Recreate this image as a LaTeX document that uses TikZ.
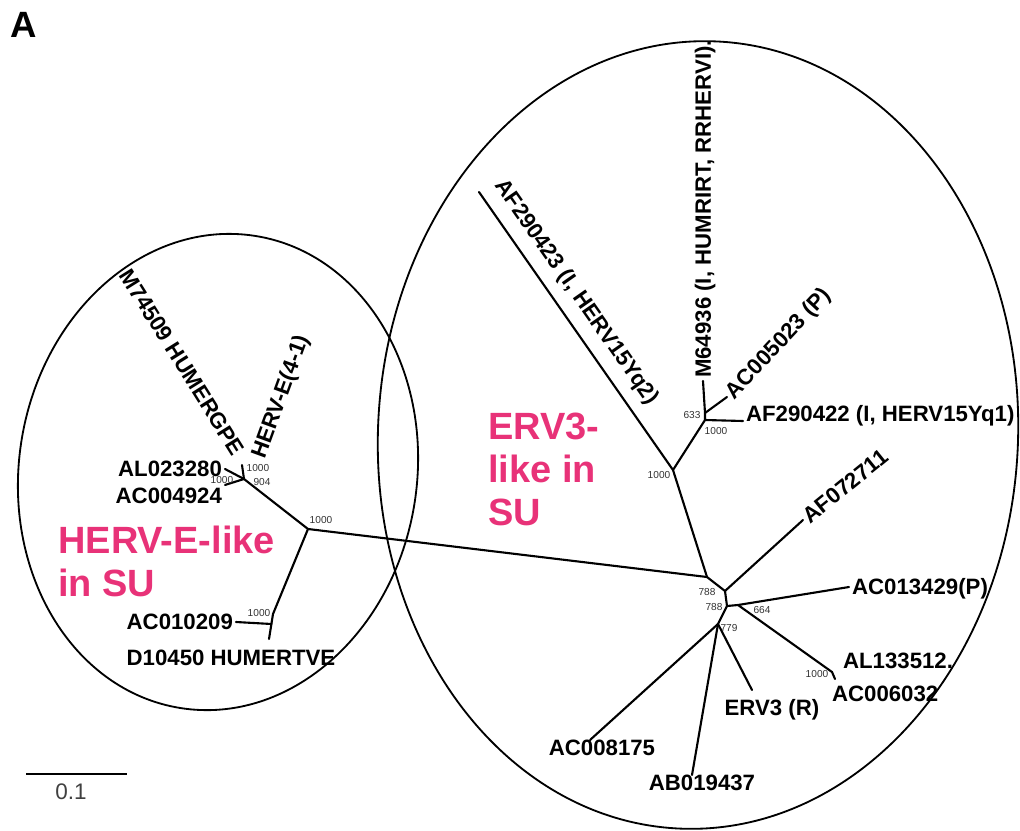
\documentclass[tikz,border=0pt]{standalone}
\usepackage{fontspec}
\setmainfont{Liberation Sans}
\definecolor{suPink}{RGB}{232,50,120}
\tikzset{
  branch/.style={line width=1.5pt, line cap=round},
  cladering/.style={line width=1.3pt},
  taxon/.style={font=\fontsize{15.8}{18}\selectfont\bfseries, inner sep=2pt, text height=11.3pt, text depth=0pt},
  boot/.style={font=\fontsize{7.2}{8}\selectfont, inner sep=0pt, text=black!80},
  group/.style={font=\fontsize{27}{30.5}\selectfont\bfseries, text=suPink, align=left, inner sep=0pt}
}
\begin{document}
\begin{tikzpicture}[x=0.025cm, y=-0.025cm]
\useasboundingbox (0,0) rectangle (1020,830);

\node[font=\fontsize{26}{28}\selectfont\bfseries, inner sep=0pt] (panel) at (24,25) {A};

\draw[cladering, rotate around={-9:(218,472)}] (218,472) ellipse [x radius=199, y radius=239];
\draw[cladering, rotate around={-3:(698,435)}] (698,435) ellipse [x radius=320, y radius=394];

\coordinate (hub) at (308,529);
\coordinate (hervA) at (244,479);
\coordinate (hervB) at (242,465);
\coordinate (hervC) at (273,614);
\coordinate (hervCm) at (271.5,624);
\coordinate (d10end) at (269,639);
\coordinate (ervRoot) at (707,577);
\coordinate (ervA) at (725,591);
\coordinate (ervB) at (727,606);
\coordinate (ervC) at (738,605);
\coordinate (ervD) at (718,624);
\coordinate (ervE) at (832,672);
\coordinate (ervF) at (835,679);
\coordinate (upA) at (673,470);
\coordinate (upB) at (705,420);
\coordinate (upC) at (705,413);
\coordinate (af23end) at (479,192);
\coordinate (ac08end) at (590,740);
\coordinate (ab19end) at (692,775);
\coordinate (erv3end) at (752,690);

\node[taxon, anchor=east] (al23) at (225,469) {AL023280};
\node[taxon, anchor=east] (ac49) at (225,496) {AC004924};
\node[taxon, rotate=-58, anchor=east] (m745) at (241,456) {M74509 HUMERGPE};
\node[taxon, rotate=70, anchor=west] (herv41) at (256,460) {HERV-E(4-1)};
\node[taxon, anchor=east] (ac10) at (236,622) {AC010209};
\node[taxon] (d104) at (231,658) {D10450 HUMERTVE};

\node[taxon, rotate=-55, anchor=south west] (af23) at (490,185) {AF290423 (I, HERV15Yq2)};
\node[taxon, rotate=90, anchor=west] (m649) at (703,381) {M64936 (I, HUMRIRT, RRHERVI).};
\node[taxon, rotate=47, anchor=west] (ac50) at (727,397) {AC005023 (P)};
\node[taxon, anchor=base west] (af22) at (743,421) {AF290422 (I, HERV15Yq1)};
\node[taxon, rotate=39, anchor=west] (af07) at (803,520) {AF072711};
\node[taxon, anchor=west] (ac13) at (849,587) {AC013429(P)};
\node[taxon, anchor=west] (al13) at (840,661) {AL133512.};
\node[taxon, anchor=west] (ac60) at (829,694) {AC006032};
\node[taxon] (erv3) at (772,708) {ERV3 (R)};
\node[taxon] (ac08) at (602,748) {AC008175};
\node[taxon] (ab19) at (702,783) {AB019437};

\draw[branch] (hub) -- (ervRoot);
\draw[branch] (hub) -- (hervA);
\draw[branch] (hervA) -- (hervB);
\draw[branch] (hervA) -- (al23.east);
\draw[branch] (hervA) -- (ac49.north east);
\draw[branch] (hub) -- (hervC) -- (d10end);
\draw[branch] (hervCm) -- (ac10.east);
\draw[branch] (ervRoot) -- (upA);
\draw[branch] (upA) -- (af23end);
\draw[branch] (upA) -- (upB) -- (af22.base west);
\draw[branch] (upB) -- (upC) -- (m649.west);
\draw[branch] (upC) -- (ac50.west);
\draw[branch] (ervRoot) -- (ervA) -- (af07.west);
\draw[branch] (ervA) -- (ervB) -- (ervC) -- (ac13.west);
\draw[branch] (ervC) -- (ervE) -- (ervF);
\draw[branch] (ervB) -- (ervD) -- (ac08end);
\draw[branch] (ervD) -- (ab19end);
\draw[branch] (ervD) -- (erv3end);

\node[boot] (bHub) at (321,520) {1000};
\node[boot] (bHervA1) at (258,468) {1000};
\node[boot] (bHervA2) at (262,482) {904};
\node[boot] (bHervA3) at (222,480) {1000};
\node[boot] (bHervC) at (259,613) {1000};
\node[boot] (bUpA) at (659,475) {1000};
\node[boot] (bUpC) at (692,415) {633};
\node[boot] (bUpB) at (716,431) {1000};
\node[boot] (bErvA) at (707,592) {788};
\node[boot] (bErvB) at (714,607) {788};
\node[boot] (bErvC) at (762,610) {664};
\node[boot] (bErvD) at (729,628) {779};
\node[boot] (bErvE) at (817,674) {1000};

\node[group, anchor=north west] (hervLike) at (58,526) {HERV-E-like\\in SU};
\node[group, anchor=north west] (ervLike) at (488,413) {ERV3-\\like in\\SU};

\coordinate (barL) at (26,774);
\coordinate (barR) at (127,774);
\draw[line width=1.4pt] (barL) -- (barR);
\node[font=\fontsize{16}{18}\selectfont, text=black!75] (barLabel) at (71,792) {0.1};
\end{tikzpicture}
\end{document}
